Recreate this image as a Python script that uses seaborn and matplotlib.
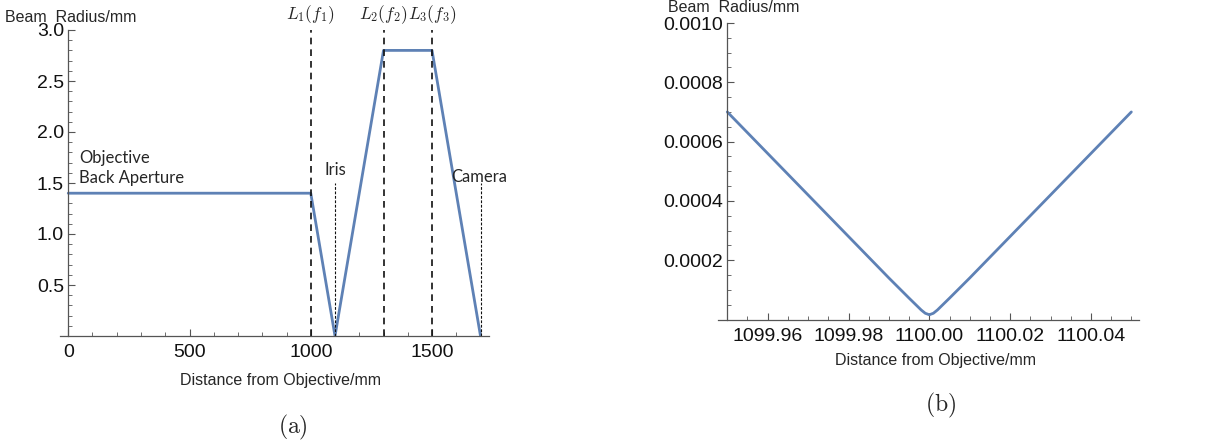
import matplotlib
matplotlib.use("Agg")
import matplotlib.pyplot as plt
import seaborn as sns
import numpy as np
from matplotlib.ticker import MultipleLocator, FixedLocator, FormatStrFormatter

sns.set_theme(style="white")
plt.rcParams['font.family'] = ['Liberation Sans', 'DejaVu Sans']
plt.rcParams['mathtext.fontset'] = 'cm'

# ---- data (a) ----
dist_a = [0, 1000, 1100, 1300, 1500, 1700]
radius_a = [1.4, 1.4, 0.0, 2.8, 2.8, 0.0]
lens_x = [1000, 1300, 1500]
lens_labels = [r"$L_1(f_1)$", r"$L_2(f_2)$", r"$L_3(f_3)$"]
iris_x = 1100
camera_x = 1700

# ---- data (b) ----
dist_b = [1099.95, 1099.96, 1099.97, 1099.98, 1099.99, 1099.995, 1099.998, 1099.999,
          1100.0, 1100.001, 1100.002, 1100.005, 1100.01, 1100.02, 1100.03, 1100.04, 1100.05]
radius_b = [0.0007, 0.00056, 0.00042, 0.00028, 0.00014, 0.000072, 0.000032, 0.000021,
            0.000016, 0.000021, 0.000032, 0.000072, 0.00014, 0.00028, 0.00042, 0.00056, 0.0007]

line_color = "#5E81B5"
axis_color = "#555555"
fig = plt.figure(figsize=(12.15, 4.45), dpi=100)

def style_axes(ax):
    for s in ["top", "right"]:
        ax.spines[s].set_visible(False)
    for s in ["left", "bottom"]:
        ax.spines[s].set_color(axis_color)
        ax.spines[s].set_linewidth(0.9)
    ax.tick_params(which="both", direction="in", color=axis_color, labelsize=14,
                   labelcolor="#111111", bottom=True, left=True, top=False, right=False)
    ax.tick_params(which="major", length=5, width=0.8)
    ax.tick_params(which="minor", length=3, width=0.6)
    ax.tick_params(axis="x", pad=6)
    ax.tick_params(axis="y", pad=3)

# ---------- panel (a) ----------
axA = fig.add_axes([60/1215, 1-336/445, 429/1215, 306/445])
sns.lineplot(x=dist_a, y=radius_a, ax=axA, color=line_color, lw=2.0, estimator=None)
axA.set_xlim(-34, 1735)
axA.set_ylim(0, 3.0)
axA.spines["left"].set_position(("data", 0))
style_axes(axA)
axA.xaxis.set_major_locator(FixedLocator([0, 500, 1000, 1500]))
axA.xaxis.set_minor_locator(MultipleLocator(100))
axA.yaxis.set_major_locator(FixedLocator([0.5, 1.0, 1.5, 2.0, 2.5, 3.0]))
axA.yaxis.set_minor_locator(MultipleLocator(0.1))
axA.set_xlabel("")
axA.set_ylabel("")

axA.vlines(lens_x, 0, 3.0, colors="#111111", linestyles=(0, (4, 3)), lw=1.2, clip_on=False)
axA.vlines([iris_x, camera_x], 0, 1.5, colors="#111111", linestyles=(0, (2.5, 1.5)), lw=0.8, clip_on=False)
for x, lab in zip(lens_x, lens_labels):
    axA.text(x, 3.04, lab, ha="center", va="bottom", fontsize=12.5)
axA.text(iris_x, 1.55, "Iris", ha="center", va="bottom", fontsize=12, family=["Lato", "DejaVu Sans"])
axA.text(camera_x - 5, 1.48, "Camera", ha="center", va="bottom", fontsize=12, family=["Lato", "DejaVu Sans"])
axA.text(45, 1.47, "Objective\nBack Aperture", ha="left", va="bottom", fontsize=12,
         family=["Lato", "DejaVu Sans"], linespacing=1.35)

fig.text(5/1215, 1-17/445, "Beam  Radius/mm", ha="left", va="center", fontsize=11.5)
fig.text(280/1215, 1-380/445, "Distance from Objective/mm", ha="center", va="center", fontsize=11.5)
fig.text(293/1215, 1-427/445, r"$\mathrm{(a)}$", ha="center", va="center", fontsize=17)

# ---------- panel (b) ----------
axB = fig.add_axes([718/1215, 1-319.5/445, 421/1215, 296.5/445])
sns.lineplot(x=dist_b, y=radius_b, ax=axB, color=line_color, lw=2.0, estimator=None)
axB.set_xlim(1099.9477, 1100.0519)
axB.set_ylim(0, 0.001)
axB.spines["left"].set_position(("data", 1099.95))
style_axes(axB)
axB.xaxis.set_major_locator(FixedLocator([1099.96, 1099.98, 1100.00, 1100.02, 1100.04]))
axB.xaxis.set_minor_locator(MultipleLocator(0.005))
axB.xaxis.set_major_formatter(FormatStrFormatter("%.2f"))
axB.yaxis.set_major_locator(FixedLocator([0.0002, 0.0004, 0.0006, 0.0008, 0.0010]))
axB.yaxis.set_minor_locator(MultipleLocator(0.00005))
axB.yaxis.set_major_formatter(FormatStrFormatter("%.4f"))
axB.set_xlabel("")
axB.set_ylabel("")

fig.text(668/1215, 1-8/445, "Beam  Radius/mm", ha="left", va="center", fontsize=11.5)
fig.text(935/1215, 1-361/445, "Distance from Objective/mm", ha="center", va="center", fontsize=11.5)
fig.text(941/1215, 1-405/445, r"$\mathrm{(b)}$", ha="center", va="center", fontsize=17)

fig.savefig("out.png", dpi=100)
